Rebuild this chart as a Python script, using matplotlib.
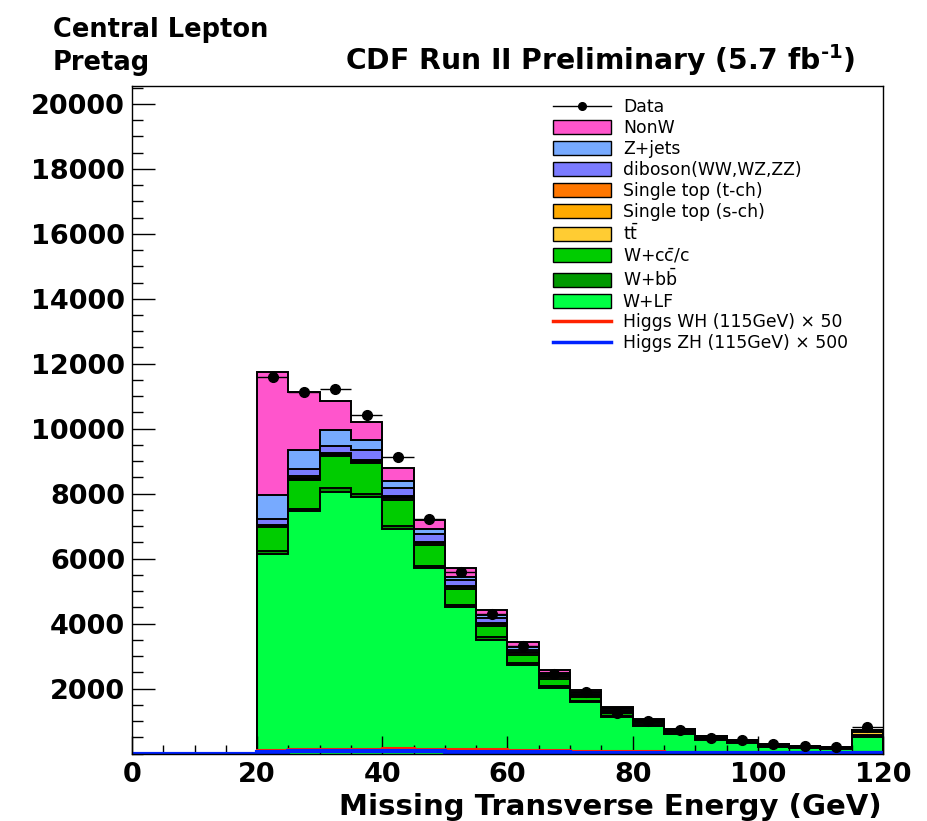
import numpy as np
import matplotlib
matplotlib.use("Agg")
import matplotlib.pyplot as plt
from matplotlib.patches import Patch
from matplotlib.lines import Line2D
from matplotlib.ticker import MultipleLocator

plt.rcParams['font.family'] = ['DejaVu Sans']
plt.rcParams['mathtext.fontset'] = 'dejavusans'

# Missing ET bins (GeV); backgrounds populate 20-120, last bin holds overflow
bin_edges = np.arange(20, 125, 5)
full_edges = np.arange(0, 125, 5)

w_lf = [6144, 7455, 8062, 7898, 6913, 5713, 4513, 3508, 2728, 2031,
        1579, 1128, 852, 594, 431, 308, 205, 164, 144, 513]
w_bb = [82, 83, 101, 92, 102, 72, 62, 82, 62, 61,
        42, 35, 25, 20, 15, 14, 10, 7, 7, 20]
w_cc = [749, 893, 985, 954, 800, 636, 492, 348, 256, 206,
        123, 90, 65, 50, 35, 30, 22, 15, 14, 50]
ttbar = [25, 35, 40, 45, 50, 52, 55, 48, 45, 52,
         40, 40, 35, 30, 25, 25, 20, 15, 14, 70]
stop_s = [15, 20, 18, 20, 18, 18, 17, 12, 10, 10,
          8, 7, 5, 4, 3, 3, 2, 2, 2, 8]
stop_t = [30, 45, 35, 37, 35, 32, 30, 23, 17, 20,
          13, 12, 10, 8, 6, 6, 5, 3, 3, 15]
diboson = [175, 227, 236, 287, 257, 237, 164, 153, 82, 61,
           62, 55, 35, 25, 18, 20, 15, 9, 9, 30]
zjets = [727, 584, 471, 319, 215, 153, 103, 103, 82, 41,
         41, 30, 15, 10, 8, 8, 6, 4, 4, 12]
nonw = [3784, 1794, 914, 563, 389, 287, 267, 154, 144, 92,
        61, 39, 25, 19, 13, 17, 12, 7, 8, 20]

data = [11578, 11129, 11221, 10431, 9129, 7231, 5600, 4308, 3303, 2462,
        1887, 1260, 1015, 738, 492, 410, 287, 226, 195, 820]

higgs_wh_x50 = [0, 0, 0, 0,
                110, 125, 140, 150, 155, 150, 140, 125, 110, 95,
                85, 75, 65, 55, 45, 40, 35, 30, 25, 60]
higgs_zh_x500 = [0, 0, 0, 0,
                 60, 70, 75, 75, 70, 65, 55, 50, 40, 35,
                 30, 25, 20, 15, 12, 10, 8, 6, 5, 15]

labels = ['W+LF', r'W+b$\bar{\mathrm{b}}$', r'W+c$\bar{\mathrm{c}}$/c',
          r't$\bar{\mathrm{t}}$', 'Single top (s-ch)', 'Single top (t-ch)',
          'diboson(WW,WZ,ZZ)', 'Z+jets', 'NonW']
colors = ['#00ff44', '#009900', '#00cc00', '#ffcc33', '#ffaa00',
          '#ff7700', '#7b7bff', '#77aaff', '#ff55cc']

fig = plt.figure(figsize=(9.27, 8.21), dpi=100)
ax = fig.add_axes([132 / 927, 1 - 753.5 / 821, 751 / 927, 667.5 / 821])

# stacked backgrounds: draw cumulative sums from the total downwards
layers = np.array([w_lf, w_bb, w_cc, ttbar, stop_s, stop_t, diboson, zjets, nonw], float)
cum = np.cumsum(layers, axis=0)
for k in range(len(layers) - 1, -1, -1):
    ax.stairs(cum[k], bin_edges, baseline=0, fill=True,
              facecolor=colors[k], edgecolor='black', linewidth=1.4, zorder=1)

# signal templates
ax.stairs(higgs_wh_x50, full_edges, baseline=None, color='#ff2200', linewidth=2.2, zorder=2)
ax.stairs(higgs_zh_x500, full_edges, baseline=None, color='#0022ff', linewidth=3.0, zorder=2)

# data
centers = 0.5 * (bin_edges[:-1] + bin_edges[1:])
data_arr = np.array(data, float)
ax.errorbar(centers, data_arr, xerr=2.5, yerr=np.sqrt(data_arr), fmt='o',
            color='black', markersize=7, elinewidth=1.0, capsize=0, zorder=4)

ax.set_xlim(0, 120)
ax.set_ylim(0, 20550)
ax.set_xticks(np.arange(0, 121, 20))
ax.xaxis.set_minor_locator(MultipleLocator(5))
ax.set_yticks(np.arange(2000, 20001, 2000))
ax.yaxis.set_minor_locator(MultipleLocator(500))
ax.tick_params(axis='both', which='both', direction='in', top=False, right=False,
               width=1.0, labelsize=19.5)
ax.tick_params(axis='y', which='major', length=16.5, pad=5)
ax.tick_params(axis='y', which='minor', length=8)
ax.tick_params(axis='x', which='major', length=13, pad=6)
ax.tick_params(axis='x', which='minor', length=6.5)
for lab in ax.get_xticklabels() + ax.get_yticklabels():
    lab.set_fontweight('bold')
for sp in ax.spines.values():
    sp.set_linewidth(1.0)

# legend
handles = [Line2D([], [], color='black', marker='o', markersize=5.5, linewidth=1.0)]
leg_labels = ['Data']
for k in range(len(layers) - 1, -1, -1):
    handles.append(Patch(facecolor=colors[k], edgecolor='black', linewidth=1.0))
    leg_labels.append(labels[k])
handles.append(Line2D([], [], color='#ff2200', linewidth=2.5))
leg_labels.append('Higgs WH (115GeV) × 50')
handles.append(Line2D([], [], color='#0022ff', linewidth=2.5))
leg_labels.append('Higgs ZH (115GeV) × 500')
leg = ax.legend(handles, leg_labels, loc='upper left',
                bbox_to_anchor=((552.7 - 132) / 751, (753.5 - 98.5) / 667.5),
                frameon=False, fontsize=12.4, borderpad=0, borderaxespad=0,
                handlelength=3.37, handleheight=0.87, handletextpad=0.7,
                labelspacing=0.165)

fig.text(53 / 927, 1 - 37 / 821, 'Central Lepton', fontsize=18.5, fontweight='bold',
         ha='left', va='baseline')
fig.text(53 / 927, 1 - 70 / 821, 'Pretag', fontsize=18.5, fontweight='bold',
         ha='left', va='baseline')
fig.text(345 / 927, 1 - 70 / 821, 'CDF Run II Preliminary (5.7 fb$^{\\mathbf{\u20101}}$)',
         fontsize=20.3, fontweight='bold', ha='left', va='baseline')
fig.text(882 / 927, 1 - 815 / 821, 'Missing Transverse Energy (GeV)', fontsize=21,
         fontweight='bold', ha='right', va='baseline')

fig.savefig('out.png', dpi=100)
